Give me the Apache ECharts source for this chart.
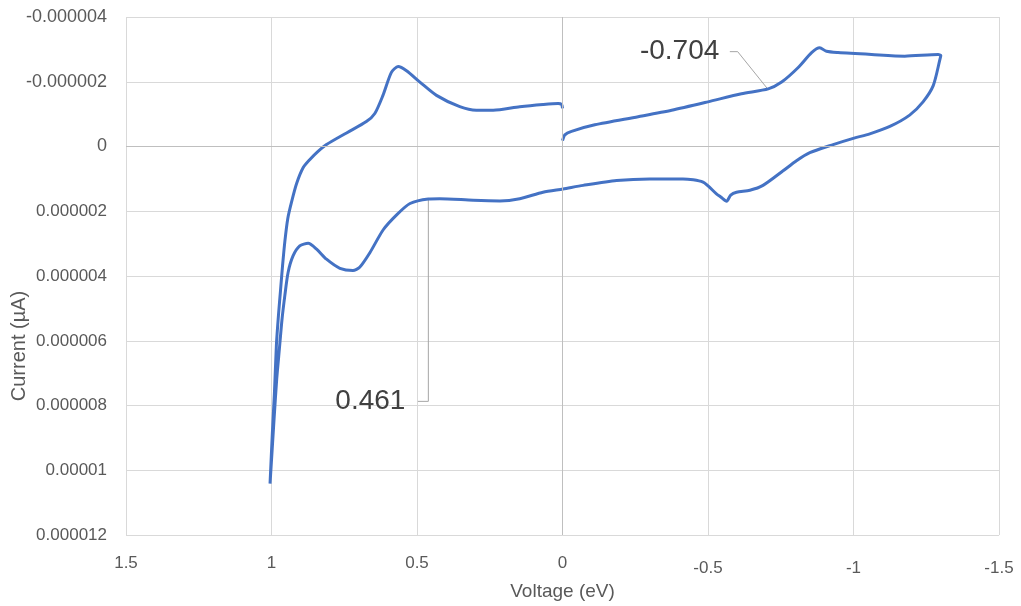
<!DOCTYPE html>
<html><head><meta charset="utf-8">
<script src="https://cdn.jsdelivr.net/npm/echarts@6/dist/echarts.min.js"></script>
<style>html,body{margin:0;padding:0;background:#fff;overflow:hidden}#chart{width:1021px;height:606px}</style>
</head><body><div id="chart"></div>
<script>
// Cyclic voltammogram, scan order: 0 V -> -1.3 V -> +1.0 V -> 0 V
const voltage = [
  0.000, -0.008, -0.031, -0.111, -0.260, -0.375, -0.500, -0.615, -0.707, -0.753, -0.810, -0.856, -0.884, -0.907, -0.947, -1.062, -1.176, -1.291, -1.300,
  -1.297, -1.274, -1.239, -1.193, -1.125, -1.056, -1.002, -0.930, -0.850, -0.804, -0.758, -0.689, -0.644, -0.598, -0.578, -0.564, -0.544, -0.529, -0.483, -0.414, -0.300, -0.186, -0.071, -0.002, 0.067, 0.147, 0.215, 0.307, 0.422, 0.461, 0.524, 0.570, 0.616, 0.662, 0.697, 0.720, 0.765, 0.811, 0.845, 0.874, 0.903, 0.926, 0.943, 0.954, 0.964, 0.973, 0.982, 0.991, 1.005,
  0.997, 0.990, 0.983, 0.976, 0.969, 0.962, 0.954, 0.944, 0.931, 0.914, 0.891, 0.868, 0.840, 0.811, 0.742, 0.674, 0.645, 0.617, 0.588, 0.565, 0.536, 0.490, 0.433, 0.353, 0.296, 0.238, 0.147, 0.067, 0.015, 0.003, 0.000
];
// current in microamps (converted to A for the axis)
const currentMicro = [
  -0.18, -0.36, -0.47, -0.67, -0.92, -1.12, -1.38, -1.63, -1.78, -1.99, -2.44, -2.90, -3.05, -2.94, -2.90, -2.84, -2.79, -2.84, -2.81,
  -2.69, -1.88, -1.38, -0.97, -0.62, -0.39, -0.26, -0.06, 0.19, 0.44, 0.75, 1.20, 1.35, 1.41, 1.50, 1.69, 1.56, 1.46, 1.10, 1.00, 1.00, 1.05, 1.20, 1.31, 1.41, 1.61, 1.68, 1.66, 1.61, 1.62, 1.76, 2.11, 2.57, 3.28, 3.73, 3.83, 3.76, 3.48, 3.17, 2.99, 3.07, 3.38, 3.89, 4.59, 5.35, 6.26, 7.17, 8.39, 10.41,
  8.84, 7.63, 6.10, 5.20, 4.44, 3.68, 2.92, 2.22, 1.71, 1.15, 0.65, 0.40, 0.15, -0.06, -0.42, -0.77, -1.02, -1.58, -2.29, -2.47, -2.34, -1.99, -1.58, -1.23, -1.12, -1.12, -1.23, -1.30, -1.33, -1.30, -1.18
];
const MICRO = 1e-6;

const xTickValues = [1.5, 1, 0.5, 0, -0.5, -1, -1.5];
const xTickLabels = ['1.5', '1', '0.5', '0', '-0.5', '-1', '-1.5'];
const yTickValues = [-4e-6, -2e-6, 0, 2e-6, 4e-6, 6e-6, 8e-6, 1e-5, 1.2e-5];
const yTickLabels = ['-0.000004', '-0.000002', '0', '0.000002', '0.000004', '0.000006', '0.000008', '0.00001', '0.000012'];

const calloutVoltage = [0.461, -0.704];
const calloutCurrentMicro = [1.62, -1.79];
const calloutText = ['0.461', '-0.704'];

// leader-line layout (bend and end points, in axis units) and label distance
const calloutLayout = [
  { bend: [0.461, 7.87], end: [0.497, 7.87], distance: 12 },
  { bend: [-0.602, -2.93], end: [-0.575, -2.93], distance: 10 }
];

function lookup(values, labels, v) {
  let best = 0, bd = Infinity;
  values.forEach((t, i) => { const d = Math.abs(t - v); if (d < bd) { bd = d; best = i; } });
  return labels[best];
}

const cvData = voltage.map((v, i) => [v, currentMicro[i] * MICRO]);

const calloutSeries = calloutVoltage.map((v, i) => {
  const L = calloutLayout[i];
  const s = {
    type: 'line', z: 2, silent: true,
    showSymbol: true, symbol: 'circle', symbolSize: 1,
    itemStyle: { color: 'rgba(0,0,0,0)' },
    lineStyle: { color: '#a6a6a6', width: 1 },
    label: { show: false },
    data: [
      { value: [v, calloutCurrentMicro[i] * MICRO] },
      { value: [L.bend[0], L.bend[1] * MICRO] },
      { value: [L.end[0], L.end[1] * MICRO],
        label: { show: true, position: 'left', distance: L.distance, formatter: calloutText[i],
                 fontFamily: 'Liberation Sans, Arial, sans-serif', fontSize: 28, color: '#404040' } }
    ]
  };
  if (i === 0) {
    s.markLine = {
      silent: true, symbol: 'none', label: { show: false }, animation: false,
      lineStyle: { color: '#bfbfbf', width: 1, type: 'solid' },
      emphasis: { disabled: true },
      data: [{ xAxis: 0 }, { yAxis: 0 }]
    };
  }
  return s;
});

const FONT = 'Liberation Sans, Arial, sans-serif';
const el = document.getElementById('chart');
const chart = echarts.init(el, null, { width: 1021, height: 606 });
chart.setOption({
  animation: false,
  backgroundColor: '#ffffff',
  grid: { left: 126, right: 22, top: 17, bottom: 62, containLabel: false },
  xAxis: {
    type: 'value', min: -1.5, max: 1.5, interval: 0.5, inverse: true,
    axisLine: { show: false }, axisTick: { show: false },
    splitLine: { show: true, lineStyle: { color: '#d9d9d9', width: 1 } },
    axisLabel: {
      margin: 20,
      formatter: v => { const t = lookup(xTickValues, xTickLabels, v); return v < -1e-9 ? '{n|' + t + '}' : '{p|' + t + '}'; },
      rich: {
        p: { fontFamily: FONT, fontSize: 17, color: '#595959' },
        n: { fontFamily: FONT, fontSize: 17, color: '#595959', padding: [5, 0, 0, 0] }
      }
    },
    name: 'Voltage (eV)', nameLocation: 'middle', nameGap: 43,
    nameTextStyle: { fontFamily: FONT, fontSize: 19, color: '#595959' }
  },
  yAxis: {
    type: 'value', min: -4e-6, max: 1.2e-5, interval: 2e-6, inverse: true,
    axisLine: { show: false }, axisTick: { show: false },
    splitLine: { show: true, lineStyle: { color: '#d9d9d9', width: 1 } },
    axisLabel: {
      margin: 19,
      formatter: v => { const t = lookup(yTickValues, yTickLabels, v); return v <= 1e-12 ? '{a|' + t + '}' : '{b|' + t + '}'; },
      rich: {
        a: { fontFamily: FONT, fontSize: 18, color: '#595959' },
        b: { fontFamily: FONT, fontSize: 17, color: '#595959' }
      }
    }
  },
  graphic: [{
    type: 'text', x: 19, y: 346, rotation: Math.PI / 2,
    style: { text: 'Current (µA)', align: 'center', verticalAlign: 'middle',
             font: '20px "Liberation Sans", Arial, sans-serif', fill: '#595959' }
  }],
  series: [
    ...calloutSeries,
    {
      type: 'line', z: 3, silent: true,
      data: cvData,
      showSymbol: false, smooth: 0.25,
      lineStyle: { color: '#4472C4', width: 3 },
      itemStyle: { color: '#4472C4' }
    }
  ]
});
</script>
</body></html>
